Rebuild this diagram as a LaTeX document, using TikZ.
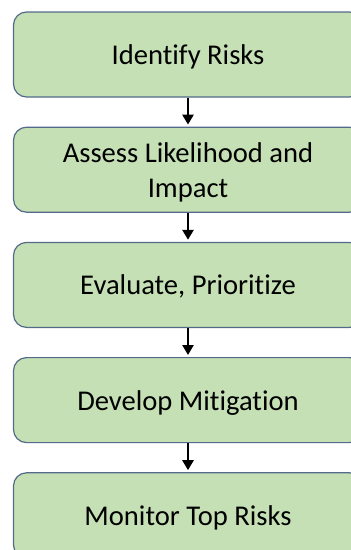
\documentclass[tikz,border=0pt]{standalone}
\usepackage{fontspec}
\setmainfont{Carlito}[Ligatures=NoCommon]
\usetikzlibrary{positioning,arrows.meta}
\definecolor{stepfill}{RGB}{197,224,180}
\definecolor{stepline}{RGB}{84,106,138}
\tikzset{
  riskbox/.style={draw=stepline, fill=stepfill, line width=1.2pt, rounded corners=13pt,
    minimum width=349pt, minimum height=85pt, align=center, text depth=0pt,
    font=\fontsize{28.6}{35}\selectfont, text=black},
  flow/.style={line width=2.8pt, -{Triangle[width=11pt,length=10pt]}, shorten >=2pt}
}

\begin{document}
\begin{tikzpicture}[x=1pt,y=-1pt]
        \useasboundingbox (0,0) rectangle (351,550);
        \clip (0,0) rectangle (351,550);

        % Steps
        \node[riskbox] (identify) at (188,54.5) {Identify Risks};
        \node[riskbox, below=29pt of identify] (assess) {Assess Likelihood and\\Impact};
        \node[riskbox, below=29pt of assess] (evaluate) {Evaluate, Prioritize};
        \node[riskbox, below=29pt of evaluate] (mitigate) {Develop Mitigation};
        \node[riskbox, below=29pt of mitigate] (monitor) {Monitor Top Risks};

        % Arrows
        \draw[flow] (identify) -- (assess);
        \draw[flow] (assess) -- (evaluate);
        \draw[flow] (evaluate) -- (mitigate);
        \draw[flow] (mitigate) -- (monitor);

    \end{tikzpicture}
\end{document}
